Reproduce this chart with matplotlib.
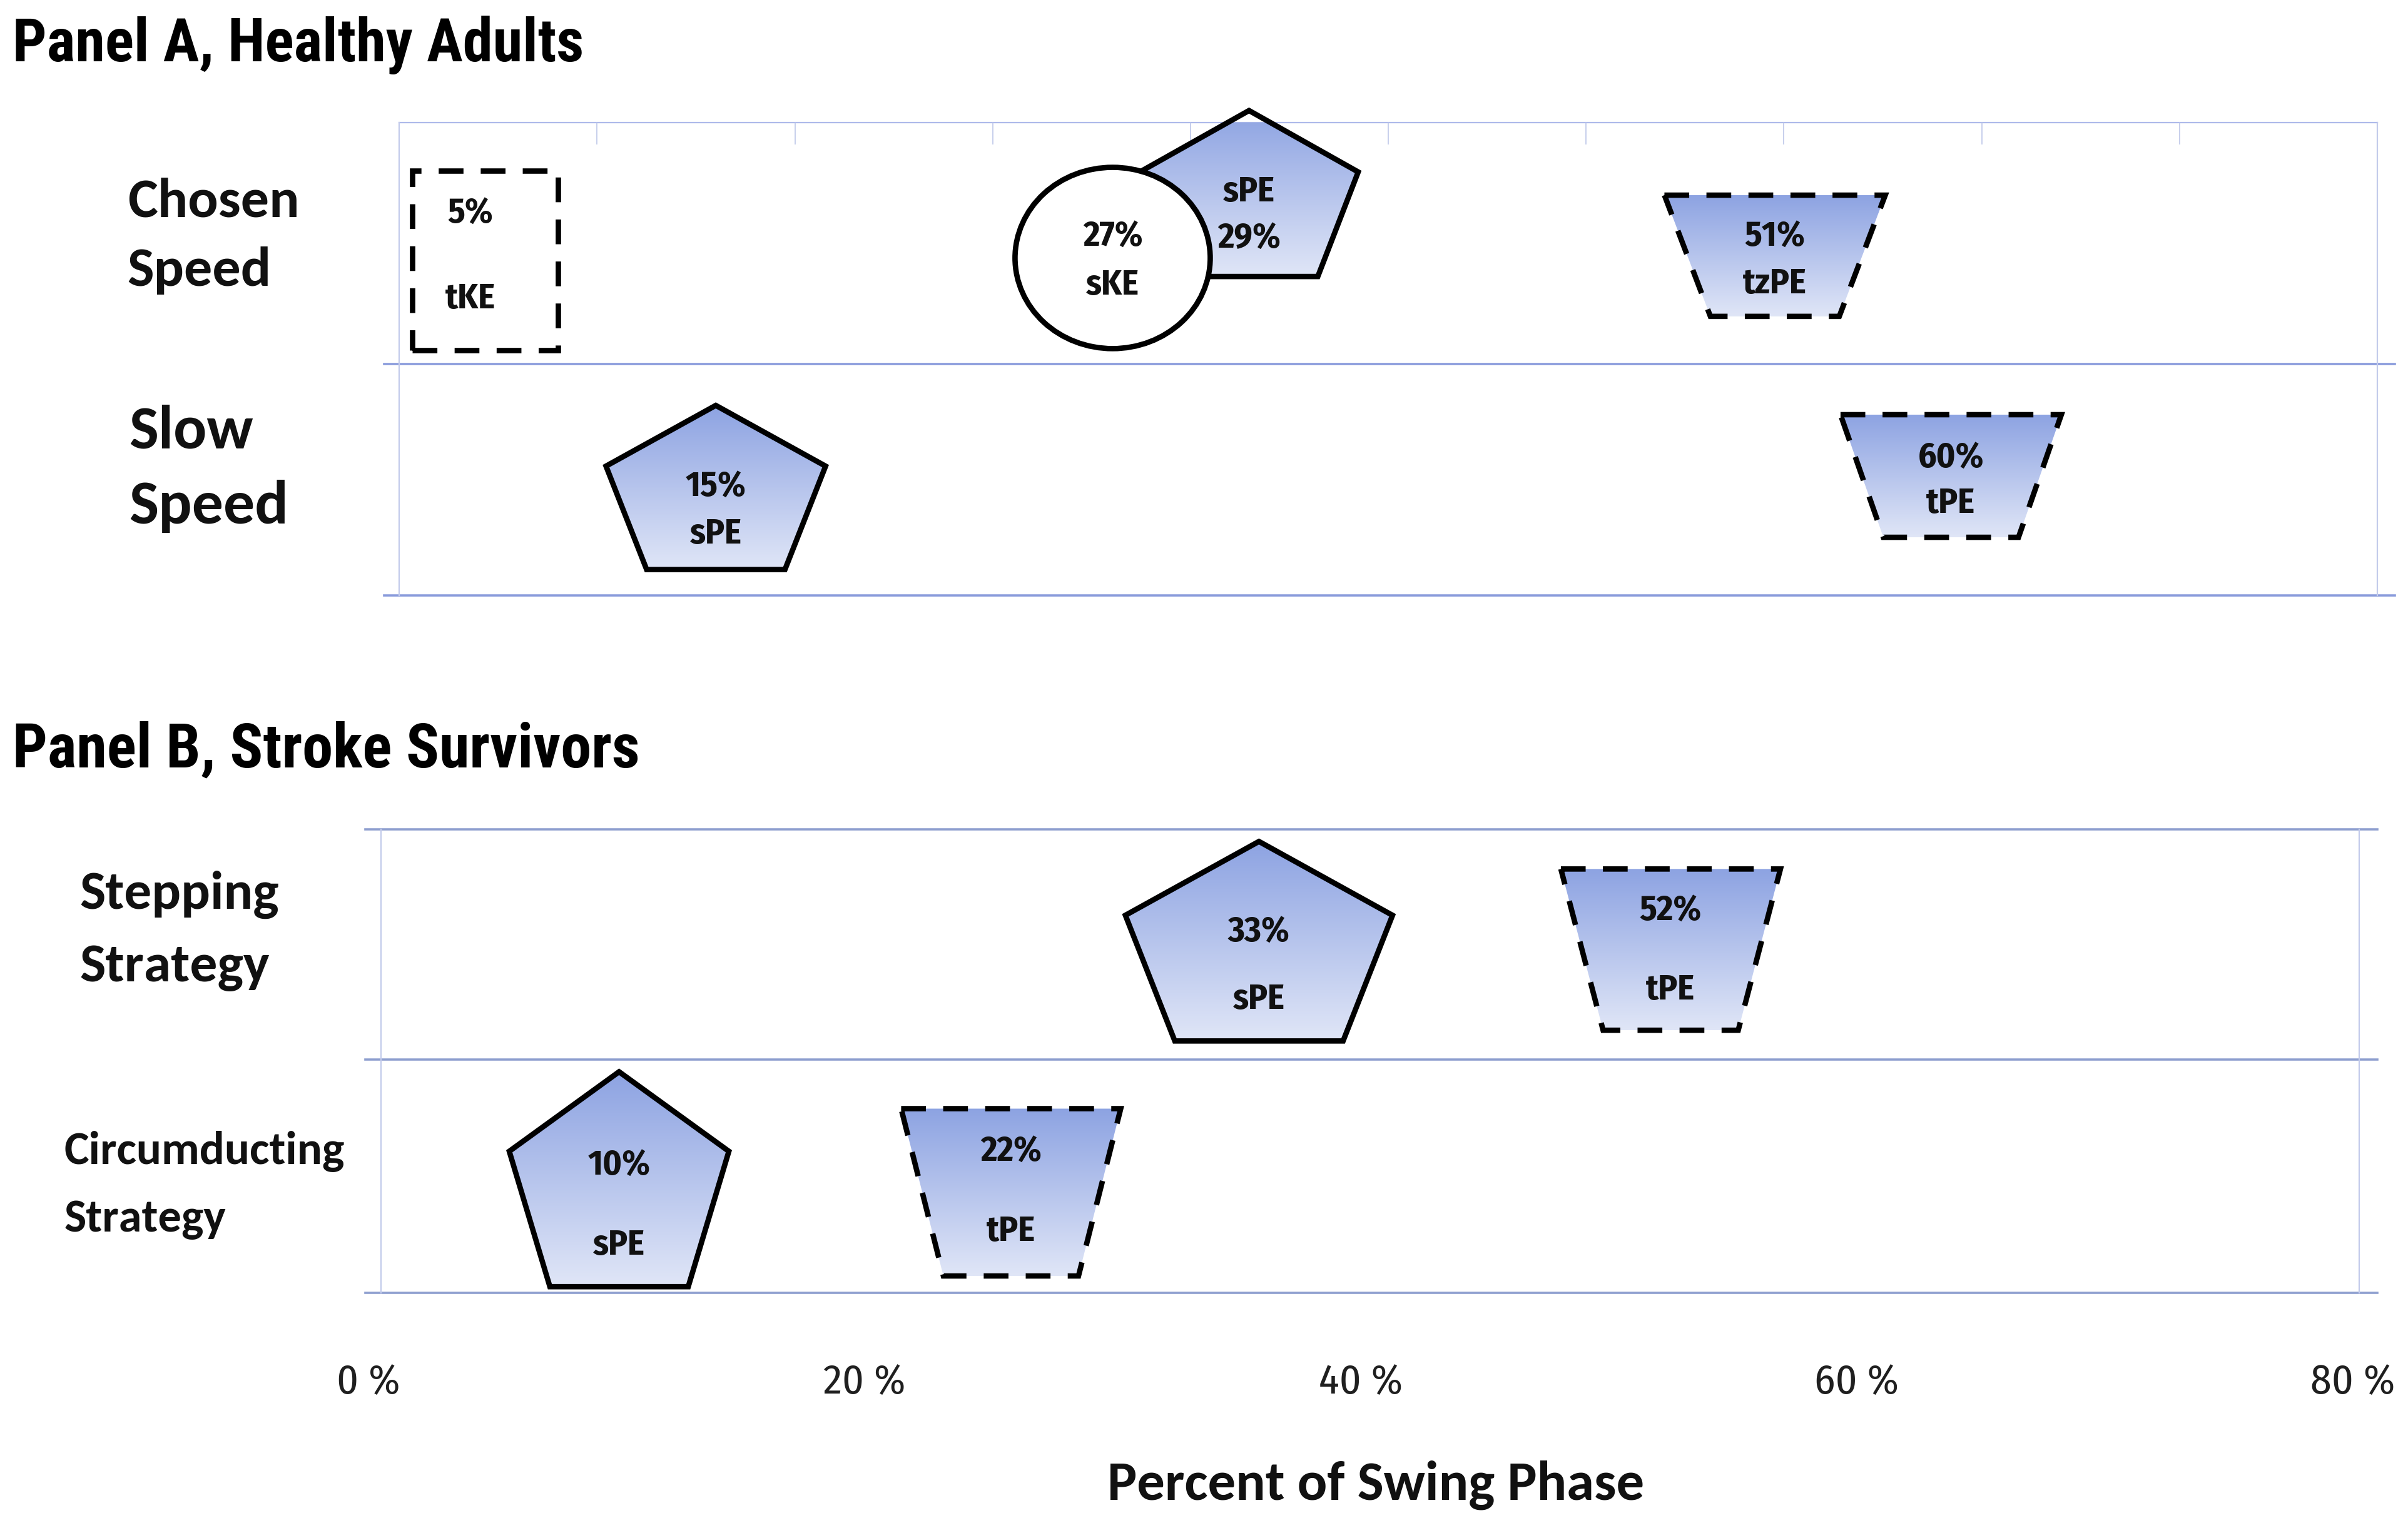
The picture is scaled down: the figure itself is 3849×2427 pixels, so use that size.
import numpy as np
import matplotlib
matplotlib.use("Agg")
import matplotlib.pyplot as plt
from matplotlib.patches import Polygon, Rectangle, Ellipse

# ---- values ----
# Panel A, healthy adults: row 1 = chosen speed, row 0 = slow speed
a_terms = ["tKE", "sKE", "sPE", "tzPE", "sPE", "tPE"]
a_values = [5, 27, 29, 51, 15, 60]
a_row = [1, 1, 1, 1, 0, 0]
a_where = [4.7, 30.0, 35.5, 56.7, 14.0, 63.8]   # marker centre as drawn, % of swing

# Panel B, stroke survivors: row 1 = stepping, row 0 = circumducting
b_terms = ["sPE", "tPE", "sPE", "tPE"]
b_values = [33, 52, 10, 22]
b_row = [1, 1, 0, 0]
b_where = [35.9, 52.5, 10.1, 25.9]

x_ticks = [0, 20, 40, 60, 80]

# ---- layout (measured on a 1568 px wide copy of the reference) ----
REF_W, REF_H = 1568.0, 988.7
S = 3849 / REF_W

def fx(x):
    return x / REF_W

def fy(y):
    return 1 - y / REF_H

# per marker: vertical span inside its row, width in px, text heights
a_layout = [
    dict(y0=0.060, y1=0.834, w=233, ty=(0.649, 0.281), tdx=-0.6),
    dict(y0=0.066, y1=0.848, w=312, ty=(0.550, 0.338)),
    dict(y0=0.377, y1=1.093, w=349, ty=(0.742, 0.543), term_first=True),
    dict(y0=0.205, y1=0.728, w=353, wb=206, ty=(0.550, 0.344)),
    dict(y0=0.113, y1=0.821, w=351, ty=(0.470, 0.265)),
    dict(y0=0.252, y1=0.781, w=353, wb=216, ty=(0.596, 0.397)),
]
b_layout = [
    dict(y0=0.079, y1=0.934, w=427, ty=(0.546, 0.257)),
    dict(y0=0.125, y1=0.816, w=351, wb=216, ty=(0.638, 0.296)),
    dict(y0=0.026, y1=0.947, w=351, ty=(0.546, 0.204)),
    dict(y0=0.072, y1=0.789, w=351, wb=216, ty=(0.605, 0.263)),
]

TITLE_FONT = ["Liberation Sans Narrow", "Roboto Condensed", "Fira Sans Condensed", "DejaVu Sans"]
LABEL_FONT = ["Fira Sans Condensed", "DejaVu Sans"]
ROW_FONT = ["Carlito", "Open Sans", "DejaVu Sans"]
LINE = "#8b9cdc"
LINE_B = "#8e9fcf"
LIGHT = "#c3cbeb"
TOP_RGB = np.array([0x8d, 0xa3, 0xe2]) / 255
BOT_RGB = np.array([0xe0, 0xe6, 0xf7]) / 255
DASH = (0, (4.6, 3.2))

fig = plt.figure(figsize=(38.49, 24.27), dpi=100)
renderer = fig.canvas.get_renderer()


def size_for(s, width, **kw):
    """font size that makes s about `width` reference px wide"""
    t = fig.text(0, 0, s, fontsize=50, **kw)
    w = t.get_window_extent(renderer).width
    t.remove()
    return 50 * width * S / w


def fit_text(x, y, s, width, **kw):
    kw.setdefault("fontweight", "bold")
    return fig.text(fx(x), fy(y), s, va="baseline",
                    fontsize=size_for(s, width, **kw), **kw)


def panel_axes(top, bottom, ytop):
    ax = fig.add_axes([fx(240), fy(bottom), fx(1532) - fx(240), fy(top) - fy(bottom)])
    ax.set_xlim(0, 80)
    ax.set_ylim(0, ytop)
    for s in ax.spines.values():
        s.set_visible(False)
    ax.set_yticks([])
    ax.patch.set_alpha(0)
    return ax


def px_per_unit(ax):
    bb = ax.get_position()
    fw, fh = fig.get_size_inches() * fig.dpi
    (x0, x1), (y0, y1) = ax.get_xlim(), ax.get_ylim()
    return bb.width * fw / (x1 - x0), bb.height * fh / (y1 - y0)


def gradient_fill(ax, patch, verts):
    xs, ys = zip(*verts)
    img = np.linspace(TOP_RGB, BOT_RGB, 256)[:, None, :]
    im = ax.imshow(img, extent=(min(xs), max(xs), min(ys), max(ys)), origin="upper",
                   aspect="auto", interpolation="bilinear", zorder=2.9)
    im.set_clip_path(patch)
    im.set_clip_box(None)


LABEL_SIZE = size_for("tzPE", 41.5, family=LABEL_FONT, fontweight="bold")


def draw_marker(ax, term, value, row, x, lay):
    kx, ky = px_per_unit(ax)
    y0, y1 = row + lay["y0"], row + lay["y1"]
    hw = lay["w"] / 2 / kx
    style = dict(edgecolor="black", lw=6.2, joinstyle="miter", clip_on=False,
                 linestyle=DASH if term.startswith("t") else "solid")
    if term == "tKE":
        patch = Rectangle((x - hw, y0), 2 * hw, y1 - y0, facecolor="white", zorder=3, **style)
        ax.add_patch(patch)
    elif term == "sKE":
        patch = Ellipse((x, (y0 + y1) / 2), 2 * hw, y1 - y0, facecolor="white", zorder=4, **style)
        ax.add_patch(patch)
    else:
        if term.startswith("s"):
            h = y1 - y0
            verts = [(x, y1), (x + hw, y1 - 0.37 * h), (x + 0.63 * hw, y0),
                     (x - 0.63 * hw, y0), (x - hw, y1 - 0.37 * h)]
        else:
            bw = lay["wb"] / 2 / kx
            verts = [(x - hw, y1), (x + hw, y1), (x + bw, y0), (x - bw, y0)]
        patch = Polygon(verts, closed=True, facecolor="none", zorder=3, **style)
        ax.add_patch(patch)
        gradient_fill(ax, patch, verts)

    lines = [f"{value}%", term]
    if lay.get("term_first"):
        lines = lines[::-1]
    tx = x + lay.get("tdx", 0)
    for s, ty in zip(lines, lay["ty"]):
        ax.text(tx, row + ty, s, ha="center", va="center", fontsize=LABEL_SIZE,
                fontweight="bold", family=LABEL_FONT, color="#111111", zorder=6)


# ---- panel A ----
ax_a = panel_axes(80, 388, 2.04)
A_LEFT, A_RIGHT = 1.24, 80.99
ax_a.plot([A_LEFT, A_RIGHT], [2.04, 2.04], color="#adb9ea", lw=1.6, clip_on=False, zorder=1)
for y in (0, 1):
    ax_a.plot([0.62, 81.7], [y, y], color=LINE, lw=2.6, clip_on=False, zorder=1)
for x in (A_LEFT, A_RIGHT):
    ax_a.plot([x, x], [0, 2.04], color=LIGHT, lw=1.6, clip_on=False, zorder=1)
ax_a.set_xticks(np.linspace(A_LEFT, A_RIGHT, 11)[1:-1])
ax_a.tick_params(axis="x", bottom=False, top=True, labelbottom=False, direction="in",
                 length=25, width=1.3, color=LIGHT)

for term, v, r, x, lay in zip(a_terms, a_values, a_row, a_where, a_layout):
    draw_marker(ax_a, term, v, r, x, lay)

# ---- panel B ----
ax_b = panel_axes(540, 842, 1.987)
for y in (0, 1, 1.987):
    ax_b.plot([-0.12, 81.0], [y, y], color=LINE_B, lw=2.6, clip_on=False, zorder=1)
for x in (0.5, 80.25):
    ax_b.plot([x, x], [0, 1.987], color=LIGHT, lw=1.6, clip_on=False, zorder=1)
tick_size = size_for("20 %", 53.5, family=LABEL_FONT)
ax_b.set_xticks(x_ticks, [f"{t} %" for t in x_ticks])
ax_b.tick_params(axis="x", length=0, pad=80, labelsize=tick_size, labelcolor="#1f1f1f")
for lab in ax_b.get_xticklabels():
    lab.set_fontfamily(LABEL_FONT)

for term, v, r, x, lay in zip(b_terms, b_values, b_row, b_where, b_layout):
    draw_marker(ax_b, term, v, r, x, lay)

# ---- titles and row labels ----
fit_text(8, 40, "Panel A, Healthy Adults", 372, family=TITLE_FONT)
fit_text(8, 499.5, "Panel B, Stroke Survivors", 409, family=TITLE_FONT)

row_labels = [("Chosen", 83, 141, 112), ("Speed", 83, 186, 94),
              ("Slow", 84, 292, 81), ("Speed", 84, 341, 104),
              ("Stepping", 52, 592, 130), ("Strategy", 52, 639, 124),
              ("Circumducting", 41.6, 758, 183), ("Strategy", 41.6, 802, 105.5)]
for s, x, y, w in row_labels:
    fit_text(x, y, s, w, family=ROW_FONT, color="#111111")

fit_text(896, 976.5, "Percent of Swing Phase", 350, family=ROW_FONT, ha="center", color="#111111")

fig.savefig("out.png", dpi=100)
